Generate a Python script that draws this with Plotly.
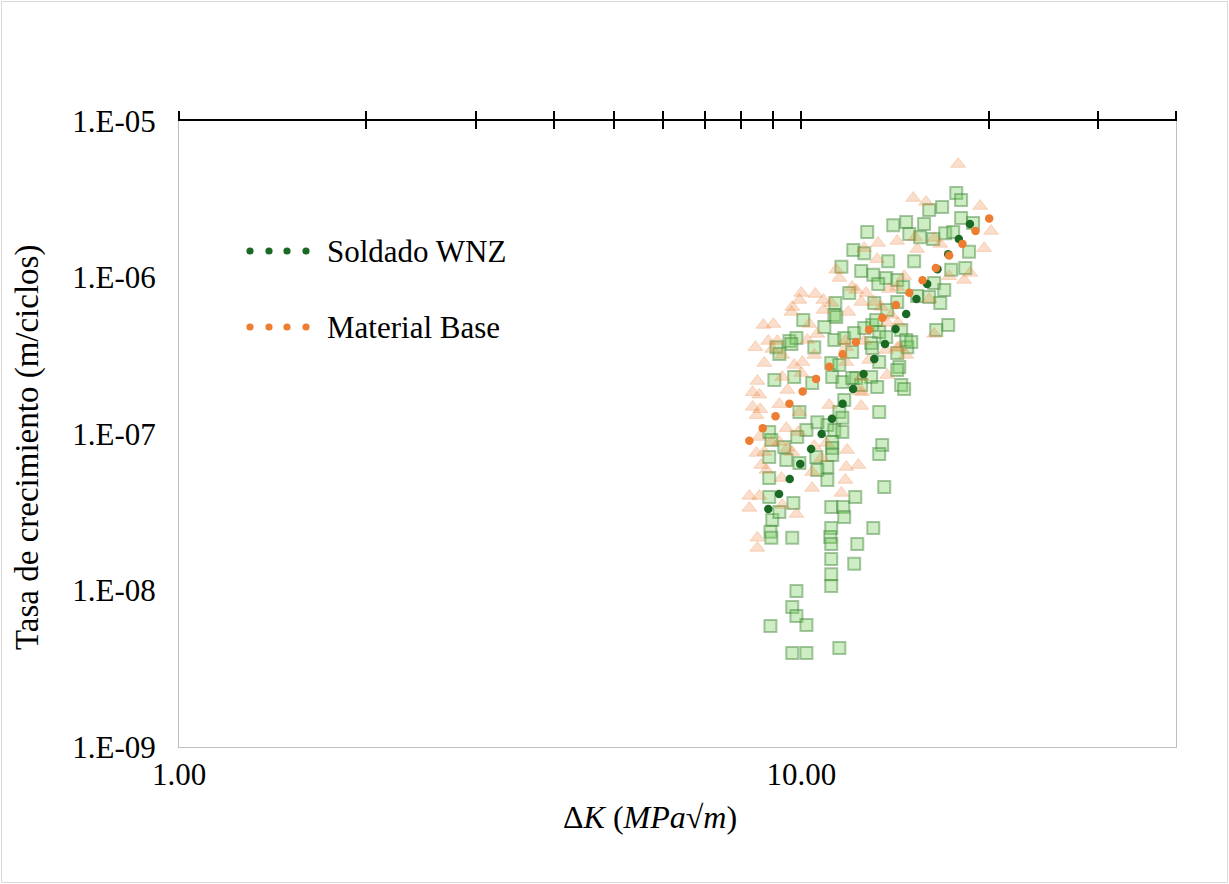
import plotly.graph_objects as go
import math

# ---- data ----
# Soldado WNZ raw data (squares)
sq_dk = [17.74, 18.06, 16.84, 16.05, 14.74, 14.05, 15.75, 18.06, 18.88, 12.76,
         14.91, 15.52, 17.03, 17.54, 16.29, 12.12, 12.62, 18.60, 13.79, 15.18,
         11.60, 12.48, 13.05, 13.69, 13.29, 14.26, 17.41, 18.34, 11.94, 11.34,
         14.58, 16.35, 16.97, 15.35, 16.05, 13.10, 16.72, 14.26, 13.74, 11.30,
         10.07, 10.89, 9.57, 9.82, 10.49, 11.30, 11.72, 12.16, 13.34, 14.47,
         14.74, 14.80, 9.12, 12.62, 13.00, 13.69, 12.95, 17.22, 16.47, 15.02,
         14.26, 14.37, 14.26, 14.47, 14.63, 13.19, 13.00, 13.34, 12.95, 13.24,
         12.25, 12.48, 13.34, 13.49, 13.34, 13.59, 11.38, 9.64, 9.22, 12.07,
         9.05, 9.74, 10.41, 11.21, 11.64, 12.07, 11.17, 11.51, 9.93, 11.72,
         11.51, 11.64, 11.01, 10.61, 8.88, 8.95, 9.85, 10.19, 11.30, 11.64,
         11.21, 11.21, 11.21, 9.39, 8.88, 9.46, 10.57, 11.01, 10.61, 8.88,
         11.01, 9.93, 8.88, 9.71, 11.17, 11.68, 11.72, 12.21, 8.98, 9.22,
         8.92, 8.95, 9.67, 11.17, 11.13, 11.17, 12.30, 11.17, 12.16, 11.17,
         11.17, 9.82, 9.67, 9.82, 10.19, 8.92, 9.67, 10.19, 11.51, 13.05]
sq_dadn = [3.47e-6, 3.13e-6, 2.82e-6, 2.70e-6, 2.26e-6, 2.16e-6, 2.20e-6, 2.40e-6, 2.23e-6, 1.95e-6,
           1.90e-6, 1.81e-6, 1.92e-6, 1.95e-6, 1.76e-6, 1.50e-6, 1.43e-6, 1.46e-6, 1.27e-6, 1.27e-6,
           1.17e-6, 1.10e-6, 1.04e-6, 9.93e-7, 9.09e-7, 9.64e-7, 1.12e-6, 1.15e-6, 7.96e-7, 6.87e-7,
           8.70e-7, 9.22e-7, 8.32e-7, 7.62e-7, 7.50e-7, 6.87e-7, 6.87e-7, 6.97e-7, 6.20e-7, 5.76e-7,
           5.35e-7, 4.83e-7, 3.93e-7, 4.11e-7, 3.59e-7, 3.99e-7, 4.11e-7, 4.42e-7, 4.49e-7, 4.62e-7,
           3.99e-7, 3.59e-7, 3.59e-7, 4.76e-7, 4.97e-7, 4.17e-7, 3.82e-7, 4.97e-7, 4.62e-7, 3.87e-7,
           3.29e-7, 2.68e-7, 2.56e-7, 2.06e-7, 1.94e-7, 5.35e-7, 3.54e-7, 2.88e-7, 2.31e-7, 2.00e-7,
           2.28e-7, 2.06e-7, 1.38e-7, 8.51e-8, 7.45e-8, 4.58e-8, 5.59e-7, 3.76e-7, 3.24e-7, 3.34e-7,
           2.21e-7, 2.31e-7, 2.12e-7, 2.31e-7, 2.15e-7, 2.28e-7, 2.84e-7, 2.76e-7, 1.38e-7, 1.65e-7,
           1.38e-7, 1.27e-7, 1.14e-7, 1.19e-7, 1.03e-7, 9.16e-8, 9.57e-8, 1.06e-7, 1.06e-7, 1.03e-7,
           8.89e-8, 8.14e-8, 7.34e-8, 8.26e-8, 7.13e-8, 6.82e-8, 7.13e-8, 6.15e-8, 5.89e-8, 5.23e-8,
           5.08e-8, 6.53e-8, 3.96e-8, 3.62e-8, 3.42e-8, 3.42e-8, 2.95e-8, 3.96e-8, 2.82e-8, 3.17e-8,
           2.37e-8, 2.17e-8, 2.17e-8, 2.51e-8, 2.20e-8, 1.98e-8, 1.98e-8, 1.59e-8, 1.48e-8, 1.27e-8,
           1.07e-8, 9.93e-9, 7.84e-9, 6.87e-9, 6.02e-9, 5.93e-9, 3.99e-9, 3.99e-9, 4.29e-9, 2.51e-8]

# Material Base raw data (triangles)
tri_dk = [17.86, 15.13, 15.87, 19.38, 20.18, 14.26, 13.29, 15.24, 16.35, 16.72,
          12.62, 15.35, 19.67, 13.24, 18.68, 18.26, 17.28, 14.63, 13.84, 14.26,
          16.05, 12.71, 12.25, 13.10, 13.44, 13.95, 12.48, 11.38, 11.51, 12.07,
          10.00, 9.93, 10.53, 10.85, 11.17, 9.67, 9.64, 10.85, 11.90, 8.69,
          9.02, 10.30, 8.85, 9.15, 8.44, 10.22, 10.61, 11.77, 13.74, 14.31,
          16.35, 12.62, 14.37, 8.98, 8.72, 9.32, 9.74, 10.04, 10.00, 9.32,
          8.50, 10.49, 11.81, 11.81, 12.48, 9.50, 8.35, 8.56, 9.22, 8.35,
          8.59, 8.47, 9.93, 11.09, 12.53, 9.46, 8.56, 8.95, 9.22, 9.50,
          9.89, 10.49, 10.97, 10.77, 11.85, 11.81, 8.72, 8.79, 8.62, 9.67,
          10.41, 9.29, 11.77, 8.47, 14.26, 14.74, 13.69, 12.85, 13.74, 12.39,
          12.48, 12.35, 8.25, 8.56, 8.25, 9.32, 9.82, 10.41, 11.60, 8.50, 8.50]
tri_dadn = [5.31e-6, 3.22e-6, 3.04e-6, 2.86e-6, 1.98e-6, 1.71e-6, 1.66e-6, 1.81e-6, 1.79e-6, 1.64e-6,
            1.54e-6, 1.52e-6, 1.54e-6, 1.31e-6, 1.07e-6, 9.64e-7, 1.02e-6, 1.02e-6, 8.44e-7, 8.70e-7,
            7.29e-7, 7.96e-7, 8.32e-7, 6.97e-7, 6.48e-7, 5.76e-7, 6.97e-7, 1.12e-6, 9.93e-7, 8.70e-7,
            7.96e-7, 7.18e-7, 7.84e-7, 7.18e-7, 6.87e-7, 6.48e-7, 6.02e-7, 6.20e-7, 6.02e-7, 4.97e-7,
            5.04e-7, 5.04e-7, 3.93e-7, 3.93e-7, 3.59e-7, 3.99e-7, 4.36e-7, 3.93e-7, 5.12e-7, 5.12e-7,
            4.36e-7, 3.93e-7, 3.59e-7, 3.49e-7, 2.84e-7, 3.20e-7, 2.76e-7, 2.88e-7, 2.45e-7, 2.31e-7,
            2.18e-7, 3.20e-7, 3.59e-7, 2.88e-7, 2.31e-7, 1.91e-7, 1.85e-7, 1.78e-7, 1.55e-7, 1.49e-7,
            1.44e-7, 1.32e-7, 1.38e-7, 1.53e-7, 1.85e-7, 1.09e-7, 9.57e-8, 8.89e-8, 8.89e-8, 8.14e-8,
            1.03e-7, 8.38e-8, 8.76e-8, 7.03e-8, 7.90e-8, 6.15e-8, 7.67e-8, 5.89e-8, 6.33e-8, 7.67e-8,
            5.71e-8, 5.23e-8, 5.08e-8, 7.56e-8, 3.54e-7, 3.20e-7, 3.44e-7, 2.97e-7, 2.38e-7, 1.88e-7,
            1.51e-7, 6.33e-8, 4.02e-8, 4.02e-8, 3.37e-8, 3.52e-8, 3.08e-8, 4.52e-8, 4.20e-8, 2.17e-8, 1.87e-8]

# Fitted curves (dots)
wnz_dk = [8.85, 9.21, 9.58, 9.96, 10.37, 10.78, 11.20, 11.65, 12.11, 12.59,
          13.10, 13.63, 14.17, 14.74, 15.31, 15.93, 16.55, 17.22, 17.91, 18.66]
wnz_dadn = [3.32e-8, 4.14e-8, 5.16e-8, 6.43e-8, 8.02e-8, 1.00e-7, 1.25e-7, 1.56e-7, 1.94e-7, 2.42e-7,
            3.01e-7, 3.76e-7, 4.69e-7, 5.84e-7, 7.29e-7, 9.09e-7, 1.13e-6, 1.41e-6, 1.76e-6, 2.20e-6]

mb_dk = [8.25, 8.67, 9.09, 9.57, 10.05, 10.56, 11.09, 11.65, 12.24, 12.85,
         13.50, 14.19, 14.91, 15.66, 16.45, 17.28, 18.15, 19.05, 20.04]
mb_dadn = [9.06e-8, 1.09e-7, 1.30e-7, 1.56e-7, 1.87e-7, 2.25e-7, 2.69e-7, 3.23e-7, 3.87e-7, 4.64e-7,
           5.54e-7, 6.67e-7, 7.99e-7, 9.60e-7, 1.15e-6, 1.38e-6, 1.64e-6, 1.98e-6, 2.38e-6]

y_ticks = [1e-9, 1e-8, 1e-7, 1e-6, 1e-5]
y_ticktext = ["1.E-09", "1.E-08", "1.E-07", "1.E-06", "1.E-05"]
x_ticks = [1, 10]
x_ticktext = ["1.00", "10.00"]
x_minor = [1, 2, 3, 4, 5, 6, 7, 8, 9, 10, 20, 30, 40]

legend_names = ["Soldado WNZ", "Material Base"]

GREEN = "#1b6a23"
ORANGE = "#ED7D31"
FONT = "Liberation Serif"
FS = 31

W, H = 1229, 884
ML, MR, MT, MB = 179, 53, 121, 137
PW, PH = W - ML - MR, H - MT - MB


def px(xp):
    return (xp - ML) / PW


def py(yp):
    return (H - MB - yp) / PH


fig = go.Figure()

fig.add_trace(go.Scatter(
    x=sq_dk, y=sq_dadn, mode="markers", showlegend=False,
    marker=dict(symbol="square", size=12, color="rgba(120,205,95,0.36)",
                line=dict(color="rgba(60,130,50,0.45)", width=2))))
fig.add_trace(go.Scatter(
    x=tri_dk, y=tri_dadn, mode="markers", showlegend=False,
    marker=dict(symbol="triangle-up", size=13, color="rgba(237,125,49,0.25)",
                line=dict(color="rgba(237,125,49,0.25)", width=1))))
fig.add_trace(go.Scatter(
    x=wnz_dk, y=wnz_dadn, mode="markers", name=legend_names[0], showlegend=False,
    marker=dict(symbol="circle", size=8.5, color=GREEN)))
fig.add_trace(go.Scatter(
    x=mb_dk, y=mb_dadn, mode="markers", name=legend_names[1], showlegend=False,
    marker=dict(symbol="circle", size=8.5, color=ORANGE)))

# empty traces to host the top crossing-tick axes
fig.add_trace(go.Scatter(x=[], y=[], xaxis="x2", showlegend=False))
fig.add_trace(go.Scatter(x=[], y=[], xaxis="x3", showlegend=False))

xr = [0, math.log10(40)]
fig.update_layout(
    width=W, height=H,
    margin=dict(l=ML, r=MR, t=MT, b=MB),
    paper_bgcolor="white", plot_bgcolor="white",
    font=dict(family=FONT, color="#000000", size=FS),
    xaxis=dict(type="log", range=xr, tickvals=x_ticks, ticktext=x_ticktext,
               showgrid=False, zeroline=False, showline=True, linecolor="#bfbfbf",
               linewidth=1, ticks="", tickfont=dict(family=FONT, size=FS)),
    xaxis2=dict(type="log", range=xr, overlaying="x", side="top", anchor="y",
                tickvals=x_minor, showticklabels=False, showgrid=False, zeroline=False,
                showline=True, linecolor="black", linewidth=2,
                ticks="outside", ticklen=8, tickwidth=2, tickcolor="black"),
    xaxis3=dict(type="log", range=xr, overlaying="x", side="top", anchor="y",
                tickvals=x_minor, showticklabels=False, showgrid=False, zeroline=False,
                showline=False, ticks="inside", ticklen=8, tickwidth=2, tickcolor="black"),
    yaxis=dict(type="log", range=[-9, -5], tickvals=y_ticks, ticktext=y_ticktext,
               showgrid=False, zeroline=False, showline=True, linecolor="#bfbfbf",
               linewidth=1, mirror=True, ticks="", ticklabelstandoff=16,
               tickfont=dict(family=FONT, size=FS)),
)

# axis titles
fig.add_annotation(text="Tasa de crecimiento (m/ciclos)", textangle=-90,
                   xref="paper", yref="paper", x=px(27), y=py(448),
                   xanchor="center", yanchor="middle",
                   showarrow=False, font=dict(family=FONT, size=33))
fig.add_annotation(text="Δ<i>K</i> (<i>MPa</i>√<i>m</i>)",
                   xref="paper", yref="paper", x=px(650), y=py(817),
                   xanchor="center", yanchor="middle",
                   showarrow=False, font=dict(family=FONT, size=32))

# legend (manual: dotted series swatch + label)
for name, col, yy in [(legend_names[0], GREEN, 251), (legend_names[1], ORANGE, 327)]:
    for xx in [250, 269, 287, 306]:
        fig.add_shape(type="circle", xref="paper", yref="paper",
                      x0=px(xx - 3.6), x1=px(xx + 3.6), y0=py(yy + 3.6), y1=py(yy - 3.6),
                      fillcolor=col, line=dict(width=0))
    fig.add_annotation(text=name, xref="paper", yref="paper", x=px(325), y=py(yy),
                       xanchor="left", yanchor="middle", showarrow=False,
                       font=dict(family=FONT, size=FS))

# outer chart border
fig.add_shape(type="rect", xref="paper", yref="paper",
              x0=px(1.5), x1=px(1227.5), y0=py(882.5), y1=py(1.5),
              line=dict(color="#d9d9d9", width=1), layer="below")

fig.write_html("out.html")
